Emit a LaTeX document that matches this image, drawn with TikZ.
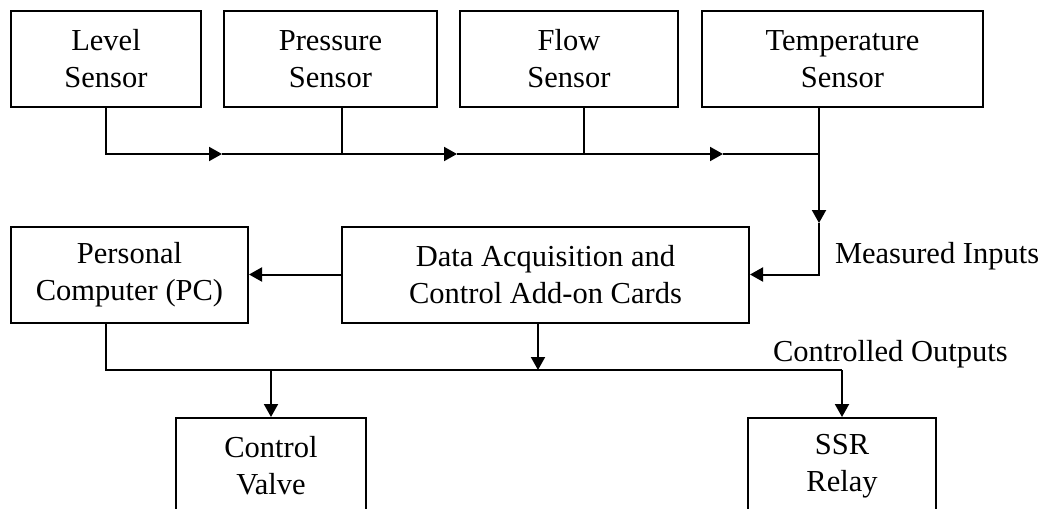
\documentclass[tikz,border=0pt]{standalone}
\usepackage{fontspec}
\setmainfont{Liberation Serif}
\usetikzlibrary{arrows.meta}
\begin{document}
\begin{tikzpicture}[x=1pt, y=-1pt, line width=2pt,
    >={Triangle[length=13pt,width=14pt]},
    box/.style={draw, align=center, inner sep=0pt, minimum height=96pt,
      font=\fontsize{30.5}{37}\selectfont},
    lbl/.style={inner sep=0pt, font=\fontsize{30.5}{37}\selectfont}]
    \clip (0,0) rectangle (1053,509);
    \node[box, minimum width=190pt] (lvl) at (106,59) {Level\\Sensor};
    \node[box, minimum width=213pt] (prs) at (330.5,59) {Pressure\\Sensor};
    \node[box, minimum width=218pt] (flw) at (569,59) {Flow\\Sensor};
    \node[box, minimum width=281pt] (tmp) at (842.5,59) {Temperature\\Sensor};
    \node[box, minimum width=237pt] (pc) at (129.5,274.5) {Personal\\Computer (PC)};
    \node[box, minimum width=407pt] (daq) at (545.5,274.5) {Data Acquisition and\\Control Add-on Cards};
    \node[box, minimum width=190pt] (vlv) at (271,466) {Control\\Valve};
    \node[box, minimum width=188pt] (ssr) at (842,466) {SSR\\Relay};
    \node[lbl, anchor=base west] (min) at (834,263) {Measured Inputs};
    \node[lbl, anchor=base west] (cout) at (772,361) {Controlled Outputs};

    \coordinate (a1) at (222,154);
    \coordinate (a2) at (457,154);
    \coordinate (a3) at (723,154);
    \coordinate (a4) at (819,223);
    \coordinate (t1) at ([xshift=-23.5pt]tmp.south);
    \coordinate (o1) at ([xshift=-23.5pt]pc.south);
    \coordinate (o2) at ([xshift=-7.5pt]daq.south);
    \coordinate (bus) at (0,154);
    \coordinate (out) at (0,370);

    \draw[->] (lvl.south) |- (a1);
    \draw[->] (a1) -- (a2);
    \draw[->] (a2) -- (a3);
    \draw (a3) -- (t1 |- bus);
    \draw ([xshift=11pt]prs.south) -- ([xshift=11pt]prs.south |- bus);
    \draw ([xshift=15pt]flw.south) -- ([xshift=15pt]flw.south |- bus);
    \draw[->] (t1) -- (a4);
    \draw[->] (a4) |- (daq.east);
    \draw[->] (daq.west) -- (pc.east);
    \draw (o1) |- (ssr.north |- out);
    \draw[->] (o2) -- (o2 |- out);
    \draw[->] (ssr.north |- out) -- (ssr.north);
    \draw[->] (vlv.north |- out) -- (vlv.north);
\end{tikzpicture}
\end{document}
